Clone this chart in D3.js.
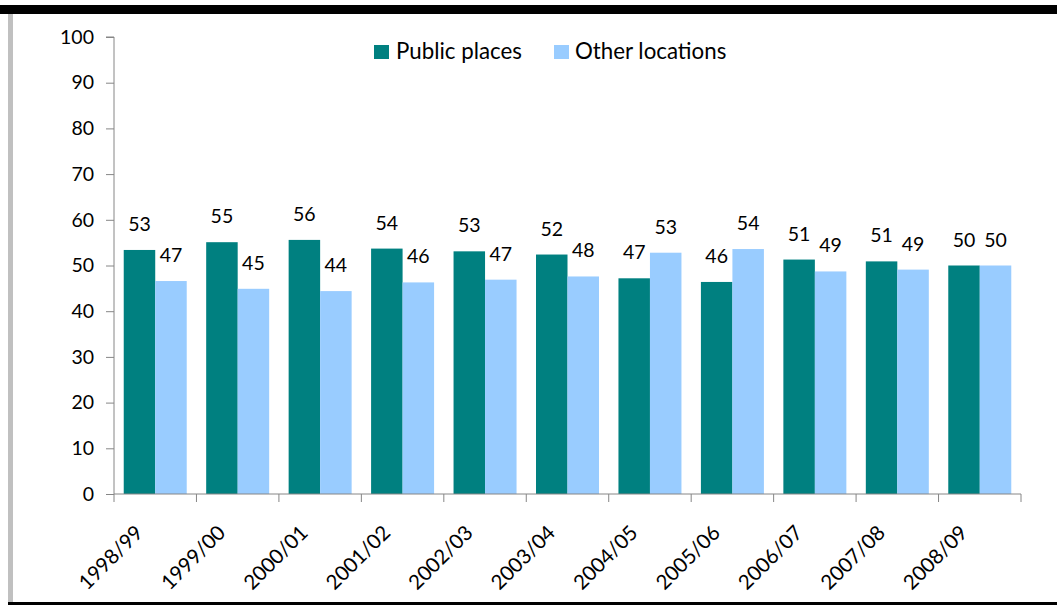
<!DOCTYPE html>
<html>
<head>
<meta charset="utf-8">
<script src="https://cdn.jsdelivr.net/npm/d3@7"></script>
<style>
  html, body { margin: 0; padding: 0; background: #fff; }
  svg { display: block; }
  text { font-family: Lato, "Open Sans", sans-serif; fill: #000; }
</style>
</head>
<body>
<svg id="chart" width="1057" height="605"></svg>
<script>
const categories = ["1998/99","1999/00","2000/01","2001/02","2002/03","2003/04","2004/05","2005/06","2006/07","2007/08","2008/09"];
const seriesNames = ["Public places", "Other locations"];
const publicPlaces = [53.4, 55.1, 55.6, 53.7, 53.1, 52.4, 47.2, 46.4, 51.3, 50.9, 50.0];
const otherLocations = [46.6, 44.9, 44.4, 46.3, 46.9, 47.6, 52.8, 53.6, 48.7, 49.1, 50.0];
const yTicks = [0, 10, 20, 30, 40, 50, 60, 70, 80, 90, 100];
const colors = ["#008080", "#99CCFF"];

const svg = d3.select("#chart");

// frame
svg.append("rect").attr("x", 0).attr("y", 5).attr("width", 1057).attr("height", 9).attr("fill", "#000");
svg.append("rect").attr("x", 8).attr("y", 14).attr("width", 5).attr("height", 589).attr("fill", "#c0c0c0");
svg.append("rect").attr("x", 8).attr("y", 602).attr("width", 1049).attr("height", 3).attr("fill", "#000");

const mLeft = 114, mRight = 1021, mTop = 37, mBottom = 494;
const x = d3.scaleBand().domain(categories).range([mLeft, mRight]).paddingInner(0.236).paddingOuter(0.118);
const x1 = d3.scaleBand().domain(seriesNames).range([0, x.bandwidth()]);
const y = d3.scaleLinear().domain([0, 100]).range([mBottom, mTop]);

const data = categories.map((c, i) => ({ cat: c, vals: [publicPlaces[i], otherLocations[i]] }));

// bars
const groups = svg.append("g").selectAll("g").data(data).join("g")
  .attr("transform", d => `translate(${x(d.cat)},0)`);
groups.selectAll("rect").data(d => d.vals.map((v, k) => ({ v, k })))
  .join("rect")
  .attr("x", d => x1(seriesNames[d.k]))
  .attr("width", x1.bandwidth())
  .attr("y", d => y(d.v))
  .attr("height", d => y(0) - y(d.v))
  .attr("fill", d => colors[d.k]);

// value labels
groups.selectAll("text").data(d => d.vals.map((v, k) => ({ v, k })))
  .join("text")
  .attr("x", d => x1(seriesNames[d.k]) + x1.bandwidth() / 2)
  .attr("y", d => y(d.v) - 19)
  .attr("text-anchor", "middle")
  .attr("font-size", 19.5)
  .text(d => Math.round(d.v));

// y axis
const yAxis = svg.append("g").attr("transform", `translate(${mLeft},0)`)
  .call(d3.axisLeft(y).tickValues(yTicks).tickSize(8).tickPadding(12));
yAxis.selectAll("path, line").attr("stroke", "#868686");
yAxis.select(".domain").attr("d", `M-8,${mTop}H0V${mBottom}`);
yAxis.selectAll("text").attr("font-size", 19.5).attr("font-family", "Lato, 'Open Sans', sans-serif");

// x axis line and ticks at category boundaries
const xg = svg.append("g");
xg.append("line").attr("x1", mLeft).attr("x2", mRight).attr("y1", mBottom).attr("y2", mBottom).attr("stroke", "#868686");
const boundaries = d3.range(categories.length + 1).map(i => mLeft + i * (mRight - mLeft) / categories.length);
xg.selectAll("line.tk").data(boundaries).join("line").attr("class", "tk")
  .attr("x1", d => d).attr("x2", d => d).attr("y1", mBottom).attr("y2", mBottom + 8)
  .attr("stroke", "#868686");
xg.selectAll("text").data(categories).join("text")
  .attr("transform", d => `translate(${x(d) + x.bandwidth() / 2 - 11},${mBottom + 40}) rotate(-45)`)
  .attr("text-anchor", "end")
  .attr("font-size", 20.5)
  .text(d => d);

// legend
const legendItems = [{ name: seriesNames[0], sx: 374, tx: 396 }, { name: seriesNames[1], sx: 554, tx: 575 }];
const lg = svg.append("g");
legendItems.forEach((it, i) => {
  lg.append("rect").attr("x", it.sx).attr("y", 45).attr("width", 15).attr("height", 14).attr("fill", colors[i]);
  lg.append("text").attr("x", it.tx).attr("y", 59).attr("font-size", 22.3).text(it.name);
});
</script>
</body>
</html>
